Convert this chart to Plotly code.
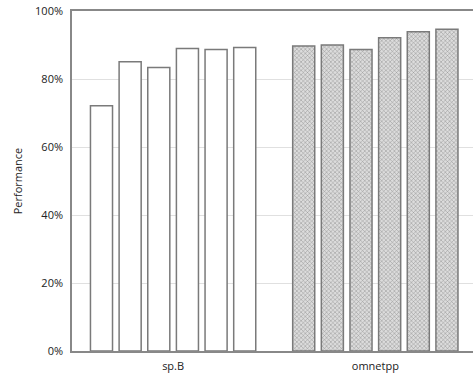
import plotly.graph_objects as go

categories = ["sp.B", "omnetpp"]
# six configurations per benchmark (values in %)
config_values = [
    [72.1, 89.7],
    [85.1, 90.0],
    [83.4, 88.7],
    [89.0, 92.1],
    [88.7, 93.9],
    [89.3, 94.6],
]
y_ticks = [0, 20, 40, 60, 80, 100]
y_tick_labels = ["0%", "20%", "40%", "60%", "80%", "100%"]
y_title = "Performance"

fig = go.Figure()
for vals in config_values:
    fig.add_trace(go.Bar(
        x=categories,
        y=vals,
        marker=dict(
            color=["white", "#dcdcdc"],
            line=dict(color="#7a7a7a", width=1.5),
            pattern=dict(shape=["", "x"], fgcolor="#b4b4b4", bgcolor="#e6e6e6",
                         size=3, solidity=0.3, fillmode="overlay"),
        ),
        showlegend=False,
    ))

fig.update_layout(
    width=473, height=377,
    margin=dict(l=72, r=0, t=11, b=26),
    plot_bgcolor="white", paper_bgcolor="white",
    barmode="group", bargap=0.15, bargroupgap=0.23,
    font=dict(family="Open Sans", size=11, color="#222"),
    xaxis=dict(
        range=[-0.5, 1.483], showgrid=False, showline=True, linecolor="#888",
        linewidth=1.5, mirror=True, ticks="", tickfont=dict(size=11),
        automargin=False, ticklabelstandoff=4,
    ),
    yaxis=dict(
        range=[0, 100], tickmode="array", tickvals=y_ticks, ticktext=y_tick_labels,
        showgrid=True, gridcolor="#e0e0e0", gridwidth=1, showline=True,
        linecolor="#888", linewidth=1.5, ticks="", zeroline=False,
        tickfont=dict(size=11), automargin=False, ticklabelstandoff=5,
        title=dict(text=y_title, standoff=10, font=dict(size=11)),
    ),
)

fig.write_html("out.html", config={"displayModeBar": False},
               post_script="document.body.style.margin='0';")
